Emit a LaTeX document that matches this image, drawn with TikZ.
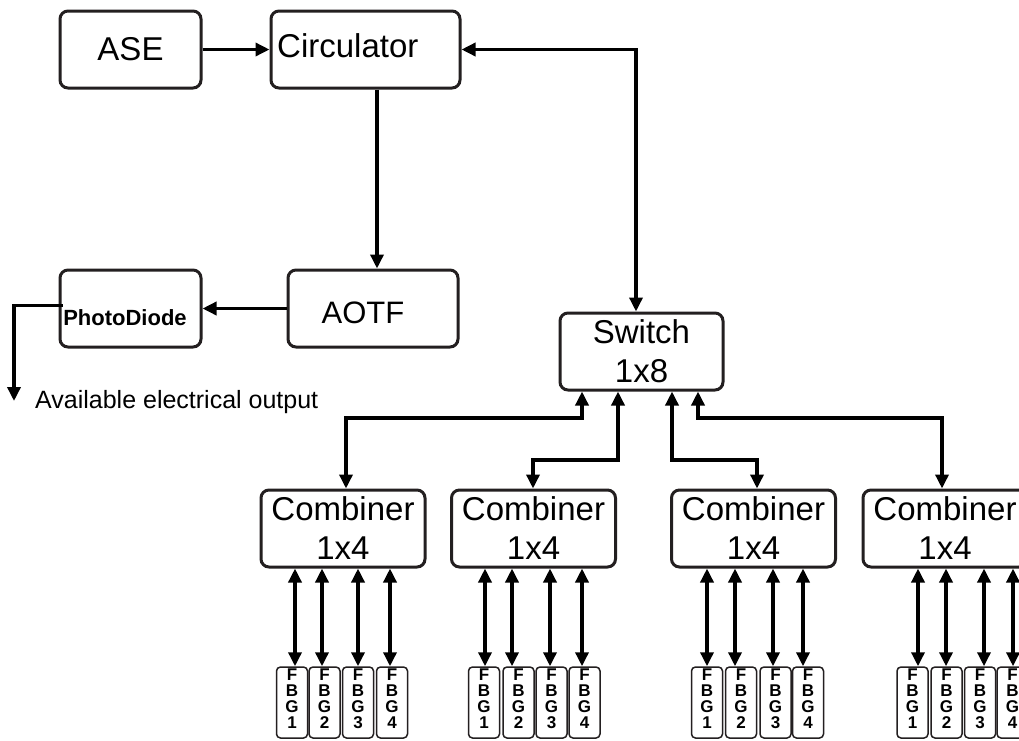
\documentclass[tikz,border=0pt]{standalone}
\usepackage{fontspec}
\setmainfont{Liberation Sans}
\usetikzlibrary{arrows.meta}
\definecolor{boxcol}{HTML}{231F20}
\begin{document}
\begin{tikzpicture}[x=1pt,y=-1pt,
  bigbox/.style={draw=boxcol, line width=3pt, rounded corners=8pt, minimum height=77pt, inner sep=0pt,
     font=\fontsize{33}{39}\selectfont, align=center},
  fbgbox/.style={draw=boxcol, line width=1.5pt, rounded corners=4pt, minimum width=31pt, minimum height=71pt,
     inner sep=0pt},
  fbgtext/.style={inner sep=0pt, anchor=north, font=\bfseries\fontsize{17}{16}\selectfont, align=center},
  conn/.style={line width=3.4pt, -{Triangle[length=14pt,width=13pt]}},
  dconn/.style={line width=3.4pt, {Triangle[length=14pt,width=13pt]}-{Triangle[length=14pt,width=13pt]}},
  lbl/.style={inner sep=0pt, anchor=base west}]
\path[clip] (0,0) rectangle (1019,740);
\fill[white] (0,0) rectangle (1019,740);

% top blocks
\node[bigbox, minimum width=141pt] (ase) at (130.5,49.5) {ASE};
\node[bigbox, minimum width=189pt] (circ) at (365.5,49.5) {};
\node[lbl, font=\fontsize{33}{39}\selectfont] (circt) at (277,57) {Circulator};
\node[bigbox, minimum width=141pt] (pd) at (130.5,308.5) {};
\node[inner sep=0pt, anchor=base, font=\bfseries\fontsize{22}{26}\selectfont] (pdt) at (125,325) {PhotoDiode};
\node[bigbox, minimum width=170pt] (aotf) at (373,308.5) {};
\node[inner sep=0pt, anchor=base, font=\fontsize{31}{36}\selectfont] (aotft) at (363,323) {AOTF};
\node[bigbox, minimum width=163pt] (sw) at (641.5,351.5) {Switch\\1x8};
\coordinate (out) at (14,401);
\node[lbl, font=\fontsize{25}{30}\selectfont] (outt) at (35,408) {Available electrical output};

% combiners
\node[bigbox, minimum width=164pt] (c1) at (343,528.5) {Combiner\\1x4};
\node[bigbox, minimum width=164pt] (c2) at (533.5,528.5) {Combiner\\1x4};
\node[bigbox, minimum width=164pt] (c3) at (753.5,528.5) {Combiner\\1x4};
\node[bigbox, minimum width=164pt] (c4) at (945,528.5) {Combiner\\1x4};

% FBG boxes
\foreach \n/\x/\k in {11/292/1,12/324.5/2,13/358/3,14/392/4,
                      21/484/1,22/518.5/2,23/551.5/3,24/584.5/4,
                      31/707/1,32/741/2,33/775.5/3,34/808/4,
                      41/912.5/1,42/946.5/2,43/980/3,44/1012.5/4}
  {\node[fbgbox] (f\n) at (\x,702.5) {};
   \node[fbgtext] (t\n) at (\x,668.5) {F\\B\\G\\\k};}

% connectors
\draw[conn] (ase.east) -- (circ.west);
\draw[conn] (377,0 |- circ.south) -- (377,0 |- aotf.north);
\draw[dconn] (circ.east) -| (636,0 |- sw.north);
\draw[conn] (aotf.west) -- (pd.east);
\draw[conn] ([xshift=4pt,yshift=3pt]pd.west) -| (out);

\draw[dconn] (582,0 |- sw.south) -- (582,418) -| (346,0 |- c1.north);
\draw[dconn] (618,0 |- sw.south) -- (618,460) -| (533,0 |- c2.north);
\draw[dconn] (672,0 |- sw.south) -- (672,460) -| (757,0 |- c3.north);
\draw[dconn] (698,0 |- sw.south) -- (698,418) -| (942,0 |- c4.north);

\foreach \n/\x/\c in {11/295/c1,12/322/c1,13/358/c1,14/390/c1,
                      21/485/c2,22/512/c2,23/550/c2,24/582/c2,
                      31/707/c3,32/735/c3,33/773/c3,34/803/c3,
                      41/918/c4,42/946/c4,43/984/c4,44/1013/c4}
  \draw[dconn] (\x,0 |- \c.south) -- (\x,0 |- f\n.north);
\end{tikzpicture}
\end{document}
